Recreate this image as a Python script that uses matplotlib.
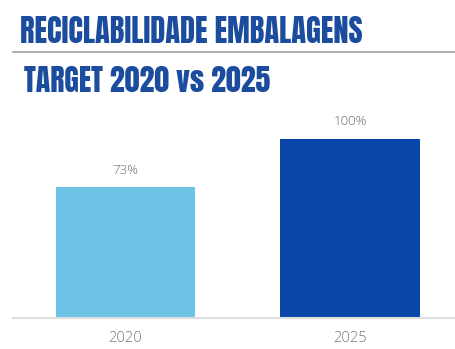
import matplotlib.pyplot as plt

years = ["2020", "2025"]
targets = [73, 100]
bar_colors = ["#6cc3e6", "#0846a8"]

plt.rcParams['font.family'] = ['Open Sans', 'DejaVu Sans']

fig = plt.figure(figsize=[4.55, 3.49], dpi=100)

# headings
head = dict(ha="left", va="baseline", family=["Anton", "DejaVu Sans"], color="#1b4c9e")
fig.text(20 / 455, 1 - 43 / 349, "RECICLABILIDADE EMBALAGENS", fontsize=22, **head)
fig.add_artist(plt.Line2D([13 / 455, 1], [1 - 52 / 349] * 2, color="#9a9fa8", lw=1.2))
fig.text(24 / 455, 1 - 92 / 349, "TARGET 2020 vs 2025", fontsize=21.5, **head)

# bar chart
ax = fig.add_axes([13 / 455, 1 - 318 / 349, 442 / 455, 179 / 349])
x = range(len(years))
ax.bar(x, targets, width=0.62, color=bar_colors)
for xi, v in zip(x, targets):
    ax.text(xi, v + 6, "%d%%" % v, ha="center", va="bottom", fontsize=9.5,
            color="#6a6a6a", weight="light")
ax.set_ylim(0, 100)
ax.set_xlim(-0.501, 1.468)
ax.set_xticks(list(x))
ax.set_xticklabels(years, fontsize=10.5, color="#7a7a7a", weight="light")
ax.tick_params(axis="x", length=0, pad=9)
ax.set_yticks([])
for s in ["top", "right", "left"]:
    ax.spines[s].set_visible(False)
ax.spines["bottom"].set_color("#dddddd")
ax.spines["bottom"].set_linewidth(1.5)
ax.patch.set_visible(False)

fig.savefig("out.png", dpi=100)
